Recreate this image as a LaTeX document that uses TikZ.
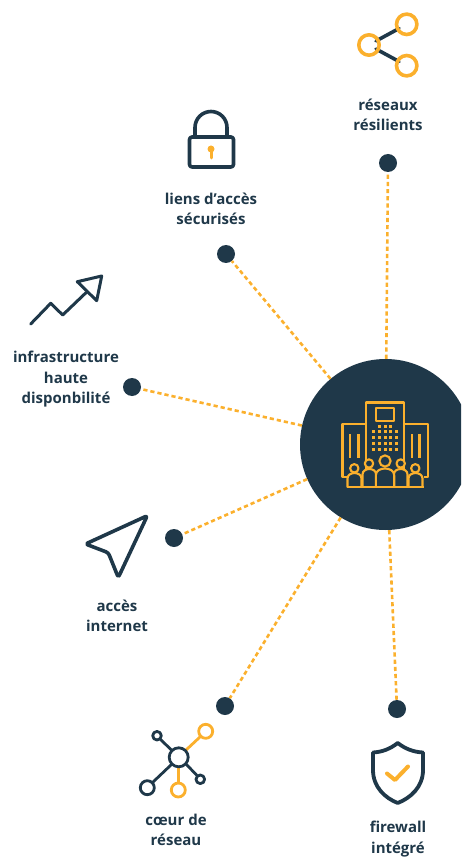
\documentclass[tikz,border=0pt]{standalone}
\usepackage{fontspec}
\setmainfont{Open Sans}
\usetikzlibrary{positioning}
\definecolor{navy}{HTML}{1F3849}
\definecolor{amber}{HTML}{FBB02D}
\tikzset{
    hubnode/.style={circle, fill=navy, minimum size=171pt, inner sep=0pt},
    dotnode/.style={circle, fill=navy, minimum size=18pt, inner sep=0pt},
    labelnode/.style={align=center, text=navy, inner sep=0pt, font=\fontsize{15}{20.5}\selectfont\bfseries},
    link/.style={amber, line width=2.6pt, dash pattern=on 4.2pt off 3pt},
    icon/.style={navy, line width=3.6pt, line cap=round, line join=round},
    iconamber/.style={amber, line width=3.6pt, line cap=round, line join=round},
    tower/.style={amber, line width=2.1pt, line join=round}
}
\begin{document}
\begin{tikzpicture}[x=1pt, y=-1pt]
    \useasboundingbox (0, 0) rectangle (461, 858);
    \clip (0, 0) rectangle (461, 858);

    \node (hub) [hubnode] at (385.5, 444.5) {};
    \node (dotA) [dotnode] at (388, 163) {};
    \node (dotB) [dotnode] at (226, 254) {};
    \node (dotC) [dotnode] at (132, 387) {};
    \node (dotD) [dotnode] at (174, 538) {};
    \node (dotE) [dotnode] at (225, 706) {};
    \node (dotF) [dotnode] at (397, 709) {};

    \node (resilient) [labelnode] at (388, 115) {réseaux\\résilients};
    \node (secure) [labelnode] at (211, 209) {liens d’accès\\sécurisés};
    \node (infra) [labelnode] at (66, 379.5) {infrastructure\\haute\\disponbilité};
    \node (internet) [labelnode] at (117, 616) {accès\\internet};
    \node (core) [labelnode] at (176, 830) {cœur de\\réseau};
    \node (firewall) [labelnode] at (398, 839) {firewall\\intégré};

    \draw [link] (hub) -- (dotA);
    \draw [link] (hub) -- (dotB);
    \draw [link] (hub) -- (dotC);
    \draw [link] (hub) -- (dotD);
    \draw [link] (hub) -- (dotE);
    \draw [link] (hub) -- (dotF);

    % building
    \draw [tower] (365.7, 477) |- (404.3, 402.5) -- (404.3, 477);
    \draw [tower] (376, 408) rectangle (394.3, 420.7);
    \draw [tower] (365.7, 424) -| (342.5, 477.3) -- (347, 477.3);
    \draw [tower] (404.3, 424) -| (427.7, 477.3) -- (424, 477.3);
    \foreach \x in {350, 358.3, 411.7, 419.3}
        \draw [amber, line width=2.4pt] (\x, 434.3) -- (\x, 457.7);
    \foreach \y in {431.7, 437.3, 443, 449.3}
        \foreach \x in {373.3, 379.3, 385, 390.7, 396.3}
            \fill [amber] (\x-1.5, \y-1.5) rectangle ++(3, 3);
    \foreach \x in {379.3, 385, 390.7}
        \fill [amber] (\x-1.5, 426.3-1.5) rectangle ++(3, 3);

    % people
    \foreach \x/\w/\t in {354.5/7/473, 415.5/7/473, 369.3/6.8/469, 400.7/6.8/469, 385/9.2/468}
        \draw [tower, fill=navy] (\x-\w, 487.3) -- (\x-\w, \t+\w*.8) .. controls (\x-\w, \t-1.8) and (\x+\w, \t-1.8) .. (\x+\w, \t+\w*.8) -- (\x+\w, 487.3);
    \foreach \x/\y/\r in {354.3/468.3/4.2, 415.3/468.3/4.2, 369/463.5/4.2, 400.7/463.5/4.2, 385/461/5.6}
        \draw [tower, fill=navy] (\x, \y) circle (\r);
    \draw [tower] (347, 487.3) -- (424, 487.3);

    % resilient networks
    \draw [icon] (376, 41) -- (399, 28.5);
    \draw [icon] (376, 49) -- (399, 61.5);
    \draw [iconamber] (369, 45) circle (10.2);
    \draw [iconamber] (406.7, 24.3) circle (10.2);
    \draw [iconamber] (406.7, 65.7) circle (10.2);

    % padlock
    \draw [icon] (195, 136) -- (195, 127.5) arc [start angle=180, end angle=0, radius=16pt] -- (227, 136);
    \draw [icon, rounded corners=2.5pt] (189.5, 137) rectangle (233.5, 167);
    \fill [amber] (211, 149) circle (3.5);
    \draw [iconamber, line width=3pt] (211, 150) -- (211, 158);

    % rising arrow
    \draw [icon, line width=3pt] (30.7, 324) -- (50.7, 303.3) -- (62.7, 315) -- (86, 292.7);
    \draw [icon, line width=3pt] (77.3, 281.7) -- (101.7, 276) -- (96.7, 300.7) -- cycle;

    % pointer
    \draw [icon, rounded corners=2.5pt] (147.3, 515.7) -- (85.5, 544) -- (108.3, 552.7) -- (118.3, 577.5) -- cycle;

    % network core
    \draw [iconamber, line width=2.8pt] (185.5, 750.5) -- (200.5, 736.5);
    \draw [iconamber, line width=2.8pt] (178.4, 767) -- (178.4, 783);
    \draw [icon, line width=2.8pt] (172, 750.5) -- (160, 739);
    \draw [icon, line width=2.8pt] (186, 764) -- (197, 775.5);
    \draw [icon, line width=2.8pt] (172, 764) -- (152.5, 782.5);
    \draw [icon, line width=2.8pt] (178.7, 757.3) circle (9.5);
    \draw [iconamber, line width=2.8pt] (205.7, 731.3) circle (7);
    \draw [iconamber, line width=2.8pt] (178.3, 790) circle (7);
    \draw [icon, line width=2.8pt] (157, 735.7) circle (4.3);
    \draw [icon, line width=2.8pt] (200.3, 779.3) circle (4.3);
    \draw [icon, line width=2.8pt] (147.3, 787.7) circle (7);

    % shield
    \draw [icon, line width=3.8pt] (397.7, 743) .. controls (390, 749) and (382, 752) .. (373, 752.5) -- (373, 770) .. controls (373, 787) and (385, 798) .. (397.7, 803) .. controls (410.5, 798) and (423, 787) .. (423, 770) -- (423, 752.5) .. controls (413.5, 752) and (405.5, 749) .. cycle;
    \draw [iconamber, line width=4pt] (387, 773.5) -- (395, 780) -- (408, 766.5);
\end{tikzpicture}
\end{document}
